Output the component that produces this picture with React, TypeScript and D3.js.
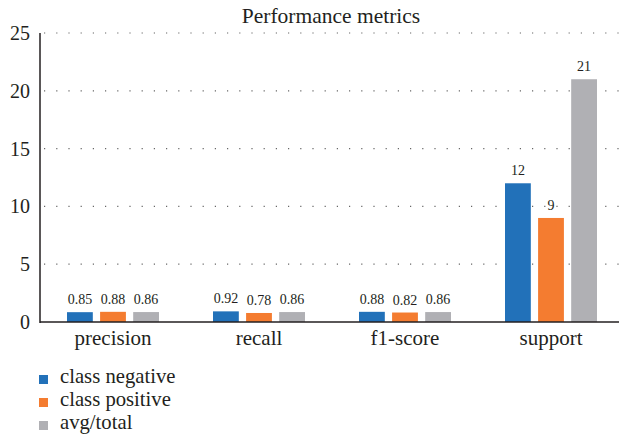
import React from "react";
import * as d3 from "d3";

const categories = ["precision", "recall", "f1-score", "support"];
const seriesNames = ["class negative", "class positive", "avg/total"];
const classNegative = [0.85, 0.92, 0.88, 12];
const classPositive = [0.88, 0.78, 0.82, 9];
const avgTotal = [0.86, 0.86, 0.86, 21];
const valueLabels = [
  ["0.85", "0.92", "0.88", "12"],
  ["0.88", "0.78", "0.82", "9"],
  ["0.86", "0.86", "0.86", "21"],
];
const yTicks = [0, 5, 10, 15, 20, 25];
const colors = ["#2271b9", "#f47c30", "#b0b0b4"];
const title = "Performance metrics";

const W = 619;
const H = 436;
const FONT = "Liberation Serif, DejaVu Serif, Times New Roman, serif";

export default function App() {
  const series = [classNegative, classPositive, avgTotal];
  const x = d3.scaleBand<string>().domain(categories).range([40, 624]);
  const inner = d3
    .scaleBand<string>()
    .domain(seriesNames)
    .range([x.bandwidth() / 2 - 46, x.bandwidth() / 2 + 46])
    .paddingInner(0.22);
  const y = d3.scaleLinear().domain([0, 25]).range([322, 33]);

  return (
    <svg
      width={W}
      height={H}
      style={{ position: "absolute", left: 0, top: 0, background: "#fff", fontFamily: FONT }}
    >
      <rect width={W} height={H} fill="#fff" />
      <text x={331} y={23} textAnchor="middle" fontSize={21.5} fill="#231f20">
        {title}
      </text>
      {yTicks.map((t) => (
        <g key={t}>
          {t > 0 && (
            <line
              x1={44}
              x2={W}
              y1={y(t)}
              y2={y(t)}
              stroke="#666"
              strokeWidth={1.2}
              strokeDasharray="1.2 11"
            />
          )}
          <text x={30} y={y(t) + 7} textAnchor="end" fontSize={20} fill="#231f20">
            {t}
          </text>
        </g>
      ))}
      {series.map((vals, si) =>
        categories.map((c, ci) => {
          const bx = (x(c) ?? 0) + (inner(seriesNames[si]) ?? 0);
          const bw = inner.bandwidth();
          return (
            <g key={`${si}-${ci}`}>
              <rect x={bx} y={y(vals[ci])} width={bw} height={y(0) - y(vals[ci])} fill={colors[si]} />
              <text
                x={bx + bw / 2}
                y={y(vals[ci]) - 8}
                textAnchor="middle"
                fontSize={14}
                fill="#231f20"
              >
                {valueLabels[si][ci]}
              </text>
            </g>
          );
        })
      )}
      <line x1={40} x2={W} y1={y(0)} y2={y(0)} stroke="#231f20" strokeWidth={1.5} />
      <line x1={40} x2={40} y1={y(25)} y2={y(0) + 1} stroke="#231f20" strokeWidth={1.5} />
      {categories.map((c) => (
        <text
          key={c}
          x={(x(c) ?? 0) + x.bandwidth() / 2}
          y={345}
          textAnchor="middle"
          fontSize={21}
          fill="#231f20"
        >
          {c}
        </text>
      ))}
      {seriesNames.map((n, i) => (
        <g key={n} transform={`translate(0, ${383 + i * 23})`}>
          <rect x={39} y={-8} width={9} height={9} fill={colors[i]} />
          <text x={60} y={0} fontSize={20.7} fill="#231f20">
            {n}
          </text>
        </g>
      ))}
    </svg>
  );
}
